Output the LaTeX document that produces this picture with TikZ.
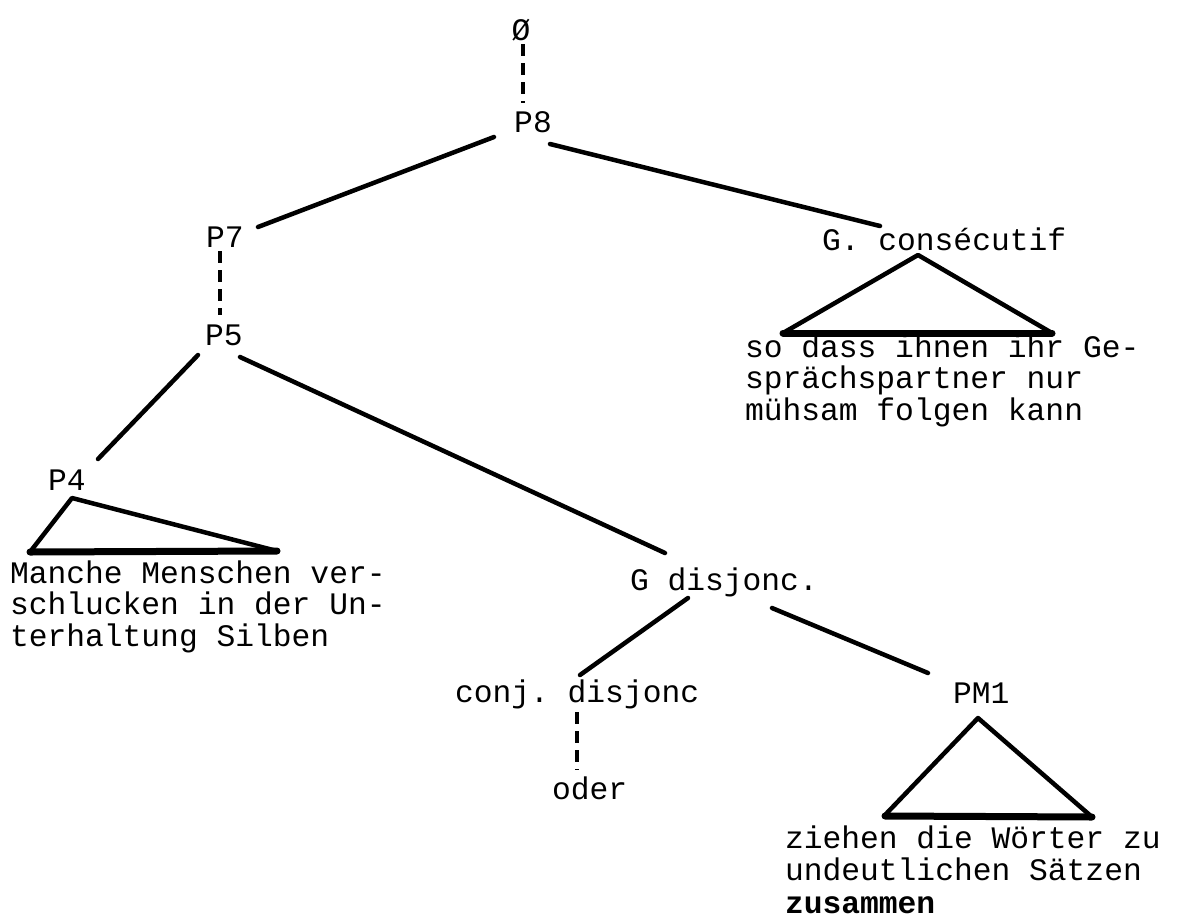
\documentclass[tikz,border=0pt]{standalone}
\usepackage{fontspec}
\setmonofont{Liberation Mono}
\usetikzlibrary{calc}
\newcommand\twfont{\fontsize{31.3}{31.5}\selectfont\ttfamily}
\newcommand\twfontb{\fontsize{31.3}{32.5}\selectfont\ttfamily}
\tikzset{
  lab/.style={inner sep=0pt, outer sep=0pt, font=\twfont},
  blk/.style={inner sep=0pt, outer sep=0pt, align=left, anchor=base west, font=\twfont},
  edge/.style={line width=4.5pt, line cap=round},
  dsh/.style={line width=4.5pt, dash pattern=on 12pt off 7pt},
  tri/.style={line width=4.5pt, line join=round},
  triBase/.style={line width=7pt, line cap=round}
}
\begin{document}
\begin{tikzpicture}[x=1pt,y=-1pt]
\useasboundingbox (0,0) rectangle (1183,919);
% labels
\node[lab, anchor=base] (phi) at (521,40) {Ø};
\node[lab, anchor=base] (p8) at (533,132) {P8};
\node[lab, anchor=base] (p7) at (225,247) {P7};
\node[lab, anchor=base] (p5) at (224,345) {P5};
\node[lab, anchor=base] (p4) at (67,490) {P4};
\node[lab, anchor=base west] (cons) at (822,250) {G. consécutif};
\node[lab, anchor=base west] (gdis) at (630,590) {G disjonc.};
\node[lab, anchor=base west] (conj) at (455,702) {conj. disjonc};
\node[lab, anchor=base west] (oder) at (552,799) {oder};
\node[lab, anchor=base west] (pm1) at (953,703) {PM1};
% text blocks (anchor = baseline of last line)
\node[blk] (t4) at (10,646) {Manche Menschen ver-\\schlucken in der Un-\\terhaltung Silben};
\node[blk] (tcons) at (745,420) {so dass ihnen ihr Ge-\\sprächspartner nur\\mühsam folgen kann};
\node[blk, font=\twfontb] (tpm1) at (785,913) {ziehen die Wörter zu\\undeutlichen Sätzen\\{\bfseries zusammen}};
% connectors
\draw[dsh] ($(phi.base)+(2,4)$) -- ($(p8.base)+(-10,-29)$);
\draw[edge] ($(p8.base)+(-39,5)$) -- ($(p7.base)+(33,-20)$);
\draw[edge] ($(p8.base)+(17,12)$) -- ($(cons.base west)+(58,-24)$);
\draw[dsh] ($(p7.base)+(-5,4)$) -- ($(p5.base)+(-4,-30)$);
\draw[edge] ($(p5.base)+(-26,10)$) -- ($(p4.base)+(31,-31)$);
\draw[edge] ($(p5.base)+(16,12)$) -- ($(gdis.base west)+(35,-37)$);
\draw[edge] ($(gdis.base west)+(58,8)$) -- ($(conj.base west)+(125,-27)$);
\draw[edge] ($(gdis.base west)+(142,18)$) -- ($(pm1.base west)+(-25,-30)$);
\draw[dsh] ($(conj.base west)+(122,10)$) -- ($(oder.base west)+(25,-29)$);
% triangles
\draw[tri] (30,552) -- (72,498) -- (277,551);
\draw[triBase] (30,552) -- (277,551);
\draw[tri] (783,333) -- (918,255) -- (1052,333);
\draw[triBase] (783,333) -- (1052,333);
\draw[tri] (885,815) -- (978,718) -- (1092,817);
\draw[triBase] (885,816) -- (1092,817);
\end{tikzpicture}
\end{document}
